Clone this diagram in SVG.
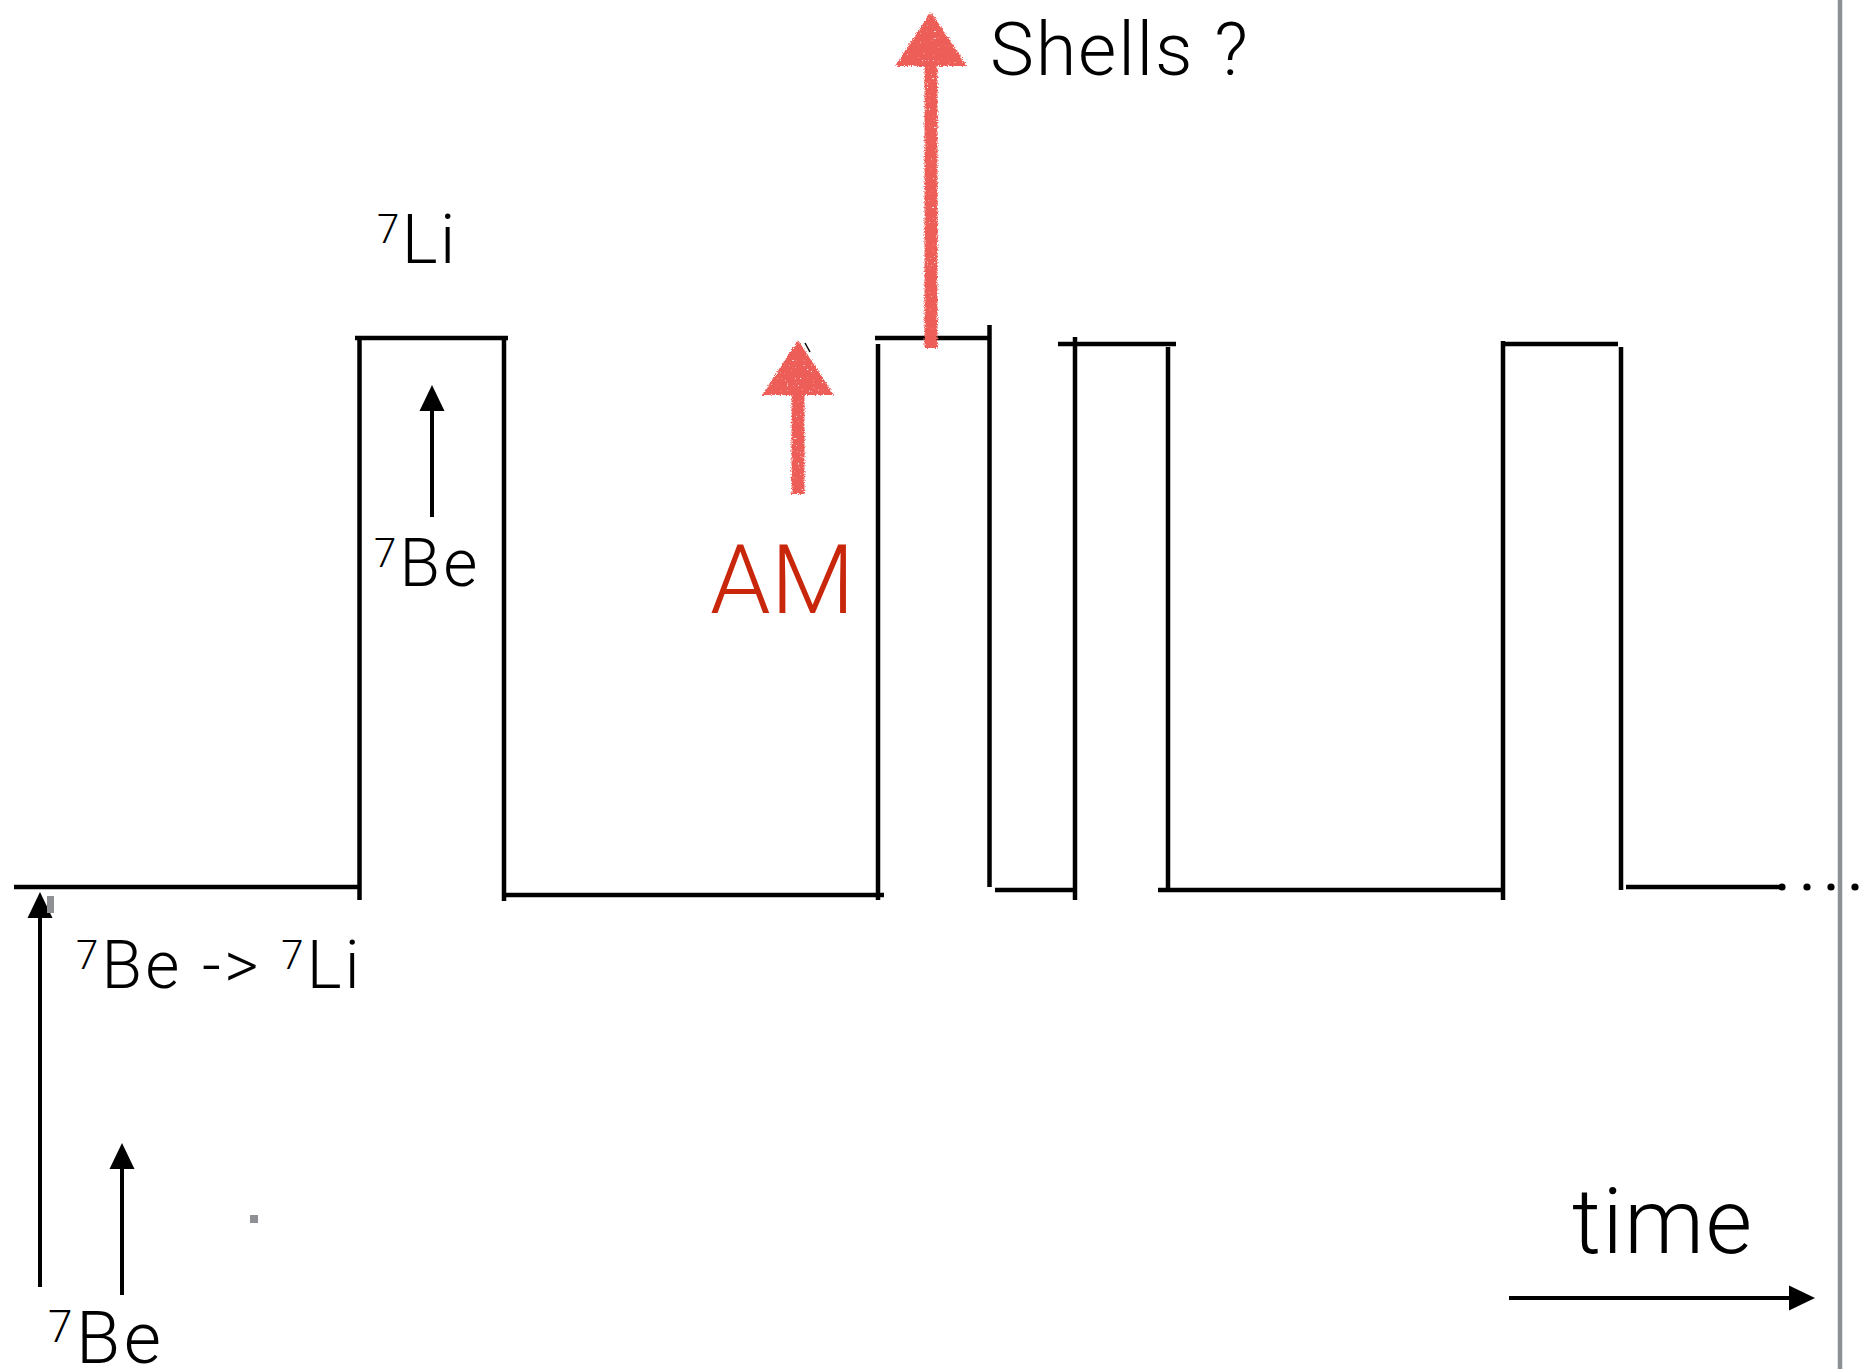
<svg xmlns="http://www.w3.org/2000/svg" width="1867" height="1369" viewBox="0 0 1867 1369">
  <style>
    .step { stroke: #000; stroke-width: 4.5; fill: none; stroke-linecap: butt; }
    .arr { stroke: #000; stroke-width: 4; fill: none; }
    .head { fill: #000; }
    .lbl { font-family: Roboto, "Liberation Sans", Arial, sans-serif; font-weight: 300; fill: #000; letter-spacing: 3.3px; }
    .sup { font-size: 40px; }
    .chalk { fill: #ED5E58; stroke: none; }
  </style>
  <defs>
    <!-- rough, speckled crayon look for the hand-drawn red arrows -->
    <filter id="crayon" x="-30%" y="-5%" width="160%" height="110%" color-interpolation-filters="sRGB">
      <feTurbulence type="fractalNoise" baseFrequency="0.8" numOctaves="2" seed="7" result="noise"/>
      <feDisplacementMap in="SourceGraphic" in2="noise" scale="5" xChannelSelector="R" yChannelSelector="G" result="rough"/>
      <feTurbulence type="fractalNoise" baseFrequency="0.55" numOctaves="1" seed="11" result="grain"/>
      <feColorMatrix in="grain" type="matrix" values="0 0 0 0 0  0 0 0 0 0  0 0 0 0 0  12 0 0 0 -8.4" result="holes"/>
      <feComposite in="rough" in2="holes" operator="out"/>
    </filter>
  </defs>

  <rect width="1867" height="1369" fill="#fff"/>

  <!-- page edge -->
  <line x1="1840" y1="0" x2="1840" y2="1369" stroke="#8d9094" stroke-width="4.5"/>

  <!-- the step signal over time -->
  <g id="connectors">
    <g id="signal" class="step">
      <line x1="14" y1="887" x2="360" y2="887"/>
      <line x1="359.5" y1="338" x2="359.5" y2="900"/>
      <line x1="355" y1="338" x2="508" y2="338"/>
      <line x1="504" y1="338" x2="504" y2="901"/>
      <line x1="504" y1="895" x2="884" y2="895"/>
      <line x1="878" y1="344" x2="878" y2="900"/>
      <line x1="875" y1="338" x2="990" y2="338"/>
      <line x1="989.5" y1="325" x2="989.5" y2="887"/>
      <line x1="995" y1="890" x2="1074" y2="890"/>
      <line x1="1075" y1="337" x2="1075" y2="900"/>
      <line x1="1058" y1="344" x2="1176" y2="344"/>
      <line x1="1168" y1="347" x2="1168" y2="889"/>
      <line x1="1158" y1="890" x2="1503" y2="890"/>
      <line x1="1503" y1="341" x2="1503" y2="900"/>
      <line x1="1501" y1="344" x2="1618" y2="344"/>
      <line x1="1621" y1="347" x2="1621" y2="890"/>
      <line x1="1626" y1="887" x2="1782" y2="887"/>
    </g>
    <g id="ellipsis" fill="#000">
      <circle cx="1782" cy="887" r="3.6"/>
      <circle cx="1807" cy="887" r="3.6"/>
      <circle cx="1831" cy="887" r="3.6"/>
      <circle cx="1855" cy="887" r="3.6"/>
    </g>

    <!-- black arrows -->
    <g id="arrow-long">
      <line class="arr" x1="40" y1="1287" x2="40" y2="914"/>
      <polygon class="head" points="40,892 27.5,918 52.5,918"/>
    </g>
    <g id="arrow-short">
      <line class="arr" x1="122" y1="1295" x2="122" y2="1165"/>
      <polygon class="head" points="122,1143 109.5,1169 134.5,1169"/>
    </g>
    <g id="arrow-box">
      <line class="arr" x1="432" y1="517" x2="432" y2="407"/>
      <polygon class="head" points="432,385 419.5,411 444.5,411"/>
    </g>
    <g id="arrow-time">
      <line class="arr" x1="1509" y1="1298" x2="1792" y2="1298"/>
      <polygon class="head" points="1815,1298 1789,1285.5 1789,1310.5"/>
    </g>

    <!-- red crayon arrows -->
    <g id="arrow-shells" filter="url(#crayon)">
      <rect class="chalk" x="924.5" y="55" width="13" height="293"/>
      <polygon class="chalk" points="931,12 895,66 967,66"/>
    </g>
    <g id="arrow-am" filter="url(#crayon)">
      <rect class="chalk" x="791.5" y="385" width="13" height="109"/>
      <polygon class="chalk" points="798,340 762,395 834,395"/>
    </g>
    <line x1="805" y1="343" x2="810" y2="352" stroke="#000" stroke-width="1.5"/>
  </g>

  <!-- stray marks -->
  <rect x="47" y="896" width="7" height="17" fill="#8e9094"/>
  <rect x="250" y="1215" width="8" height="8" fill="#8e9094"/>

  <!-- labels -->
  <g id="label-li-top">
    <text class="lbl" x="377" y="263" font-size="68" style="letter-spacing:2.5px"><tspan class="sup" dy="-20">7</tspan><tspan dy="20">Li</tspan></text>
  </g>
  <g id="label-be-box">
    <text class="lbl" x="374" y="586" font-size="66"><tspan class="sup" dy="-19">7</tspan><tspan dy="19">Be</tspan></text>
  </g>
  <g id="label-decay">
    <text class="lbl" x="76" y="988" font-size="66"><tspan class="sup" dy="-19">7</tspan><tspan dy="19">Be -&gt; </tspan><tspan class="sup" dy="-19">7</tspan><tspan dy="19">Li</tspan></text>
  </g>
  <g id="label-be-bottom">
    <text class="lbl" x="48" y="1363" font-size="72" style="letter-spacing:3.6px"><tspan font-size="44" dy="-21">7</tspan><tspan dy="21">Be</tspan></text>
  </g>
  <g id="label-am">
    <text x="710" y="613" font-family="Roboto, 'Liberation Sans', Arial, sans-serif" font-weight="300" font-size="97" fill="#C8270B">AM</text>
  </g>
  <g id="label-shells">
    <text class="lbl" x="990" y="75" font-size="74" style="letter-spacing:1.8px">Shells ?</text>
  </g>
  <g id="label-time">
    <text class="lbl" x="1572" y="1253" font-size="90" style="letter-spacing:1.5px">time</text>
  </g>
</svg>
